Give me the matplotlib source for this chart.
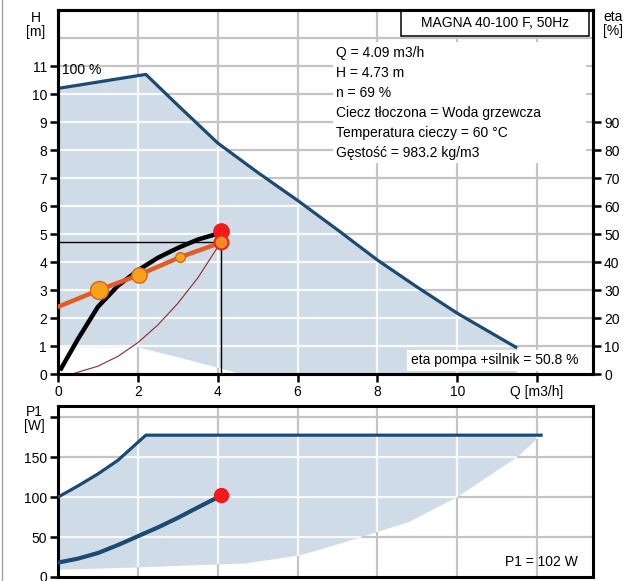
import matplotlib
matplotlib.use('Agg')
import matplotlib.pyplot as plt
import numpy as np
from matplotlib.lines import Line2D
from matplotlib.patches import Rectangle

plt.rcParams['font.family'] = ['Liberation Sans', 'DejaVu Sans']
plt.rcParams['font.size'] = 10

# --- pump curve data ---
# max curve (100 %)
q_max = [0, 2.2, 3, 4, 5, 6, 7, 8, 9, 10, 11.5]
h_max = [10.2, 10.7, 9.6, 8.25, 7.2, 6.2, 5.15, 4.07, 3.1, 2.17, 0.93]
# lower edge of the working range
q_min = [0, 2.0, 3.0, 4.0, 4.6, 11.5]
h_min = [1.0, 0.95, 0.6, 0.22, 0.0, 0.0]

# actual curve n = 69 %
q_act = [0.08, 0.5, 1, 1.5, 2, 2.5, 3, 3.5, 4.09]
h_act = [0.2, 1.25, 2.4, 3.15, 3.7, 4.15, 4.5, 4.8, 5.05]

# system curve
q_sys = [0.35, 1, 1.5, 2, 2.5, 3, 3.5, 4.09]
h_sys = [0.0, 0.28, 0.63, 1.12, 1.75, 2.52, 3.43, 4.73]

# efficiency
q_eta = [0, 1.03, 2.03, 3.05, 4.09]
eta = [24, 30, 35.4, 41.7, 47]
eta_mark_size = [13, 11, 7]

# power P1
q_pmax = [0, 0.5, 1, 1.5, 2.2, 12.1]
p_max = [100, 114, 129, 146, 177.5, 177.5]
q_pmin = [0, 2, 4.7, 6.05, 6.55, 7.6, 8.8, 10, 11.5, 12.1]
p_min = [9, 12, 17, 27, 34, 50, 69, 100, 150, 177.5]
q_p1 = [0, 0.5, 1, 1.5, 2, 2.5, 3, 3.5, 4.09]
p1 = [18, 23, 30, 40, 51, 62, 74, 87, 102]

# duty point
q_duty = 4.09
h_duty = 4.73
h_duty_curve = 5.12
p_duty = 102

x_ticks = [0, 2, 4, 6, 8, 10, 12]
x_labels = ['0', '2', '4', '6', '8', '10', 'Q [m3/h]']
info = ['Q = 4.09 m3/h', 'H = 4.73 m', 'n = 69 %',
        'Ciecz tłoczona = Woda grzewcza', 'Temperatura cieczy = 60 °C',
        'Gęstość = 983.2 kg/m3']

blue = '#1b4a72'
shade = '#cfdbe6'
gray = '#c4c4c4'
grid_in = '#f7f9fb'

W, H = 635, 581


def px_ax(l, t, r, b):
    return [l / W, 1 - b / H, (r - l) / W, (b - t) / H]


def frame(ax):
    for s in ax.spines.values():
        s.set_linewidth(2.2)
        s.set_color('black')
    ax.tick_params(direction='out', length=6, width=1.8, pad=2, labelsize=10)


def grid(ax, xs, ys, qa, ya, qb, yb):
    # gray grid on white, light grid inside the shaded range (between curve a and curve b)
    x0, x1 = ax.get_xlim()
    y0, y1 = ax.get_ylim()
    qf = np.linspace(x0, x1, 3000)
    inside_q = qf <= min(qa[-1], qb[-1])
    top = np.interp(qf, qa, ya)
    bot = np.interp(qf, qb, yb)
    for x in xs:
        ax.plot([x, x], [y0, y1], color=gray, lw=1.6, zorder=0.5)
        if x <= min(qa[-1], qb[-1]):
            ax.plot([x, x], [np.interp(x, qb, yb), np.interp(x, qa, ya)],
                    color=grid_in, lw=1.6, zorder=2.5, solid_capstyle='butt')
    for y in ys:
        ax.plot([x0, x1], [y, y], color=gray, lw=1.6, zorder=0.5)
        m = inside_q & (bot <= y) & (top >= y)
        ax.plot(qf, np.ma.masked_where(~m, np.full_like(qf, y)),
                color=grid_in, lw=1.6, zorder=2.5, solid_capstyle='butt')
    ax.set_xlim(x0, x1)
    ax.set_ylim(y0, y1)


fig = plt.figure(figsize=(6.35, 5.81), dpi=100)
ax1 = fig.add_axes(px_ax(58, 10, 593, 374))
ax2 = fig.add_axes(px_ax(58, 406, 593, 577))

# ---------- top panel ----------
ax1.set_xlim(0, 13.4)
ax1.set_ylim(0, 13)
ax1.fill(q_max + q_min[::-1], h_max + h_min[::-1], color=shade, lw=0, zorder=0.8)
grid(ax1, range(2, 13, 2), range(1, 13), q_max, h_max, q_min, h_min)

ax1.plot(q_max, h_max, color=blue, lw=2.3, zorder=3, solid_capstyle='butt')
ax1.plot(q_sys, h_sys, color='#8a2b2b', lw=0.8, zorder=3)
ax1.plot([0, q_duty], [h_duty, h_duty], color='black', lw=1, zorder=3)
ax1.plot([q_duty, q_duty], [0, h_duty], color='black', lw=1, zorder=3)
ax1.plot(q_act, h_act, color='black', lw=3.2, zorder=4)
ax1.plot([q_duty], [h_duty_curve], 'o', color='#f21a1a', ms=11, zorder=5)

ax1.set_xticks(x_ticks)
ax1.set_xticklabels(x_labels)
ax1.set_yticks(range(0, 12))
frame(ax1)

ax1.text(0.1, 10.85, '100 %', ha='left', va='center', fontsize=10, zorder=6)
ax1.text(0.972, 0.038, 'eta pompa +silnik = 50.8 %', transform=ax1.transAxes,
         ha='right', va='center', zorder=6,
         bbox=dict(fc='white', ec='none', pad=2.5))

ax1.add_patch(Rectangle((0.641, 0.9286), 0.3515, 0.0714, transform=ax1.transAxes,
                        fc='white', ec='black', lw=1.1, zorder=6))
ax1.text(0.8167, 0.9643, 'MAGNA 40-100 F, 50Hz', transform=ax1.transAxes,
         ha='center', va='center', zorder=7)
ax1.add_patch(Rectangle((0.514, 0.58), 0.473, 0.332, transform=ax1.transAxes,
                        fc='white', ec='none', zorder=5))
for i, line in enumerate(info):
    y = 53 + 20 * i
    ax1.text(0.52, 1 - (y - 10) / 364, line, transform=ax1.transAxes,
             ha='left', va='center', zorder=6)

# efficiency on the right axis
ax1r = ax1.twinx()
ax1r.set_ylim(0, 130)
ax1r.set_yticks(range(0, 100, 10))
frame(ax1r)
ax1r.plot(q_eta, eta, color='#e45a24', lw=3.2, zorder=3)
for q, e, s in zip(q_eta[1:4], eta[1:4], eta_mark_size):
    ax1r.plot([q], [e], 'o', ms=s, mfc='#f9a11b', mec='#d2691e', mew=1, zorder=4)
ax1r.plot([q_eta[-1]], [eta[-1]], 'o', ms=10, mfc='#f28a2a', mec='#e8261a', mew=1.5, zorder=4)

# ---------- bottom panel ----------
ax2.set_xlim(0, 13.4)
ax2.set_ylim(0, 214)
ax2.fill(q_pmax + q_pmin[::-1], p_max + p_min[::-1], color=shade, lw=0, zorder=0.8)
grid(ax2, range(2, 13, 2), range(50, 201, 50), q_pmax, p_max, q_pmin, p_min)
ax2.plot(q_pmax, p_max, color=blue, lw=2.3, zorder=3)
ax2.plot(q_p1, p1, color=blue, lw=3, zorder=3)
ax2.plot([q_duty], [p_duty], 'o', color='#f21a1a', ms=10, zorder=5)
ax2.set_xticks([])
ax2.set_yticks([0, 50, 100, 150, 200])
ax2.set_yticklabels(['0', '50', '100', '150', ''])
frame(ax2)
ax2.text(0.972, 0.088, 'P1 = 102 W', transform=ax2.transAxes, ha='right', va='center', zorder=6)

# axis captions
fig.text(36 / W, 1 - 25 / H, 'H\n[m]', ha='center', va='center', linespacing=1.0)
fig.text(613 / W, 1 - 24 / H, 'eta\n[%]', ha='center', va='center', linespacing=1.0)
fig.text(34 / W, 1 - 419 / H, 'P1\n[W]', ha='center', va='center', linespacing=1.0)
fig.add_artist(Line2D([2 / W, 2 / W], [0, 1], color='#a0a0a0', lw=1))

fig.savefig('out.png', dpi=100)
